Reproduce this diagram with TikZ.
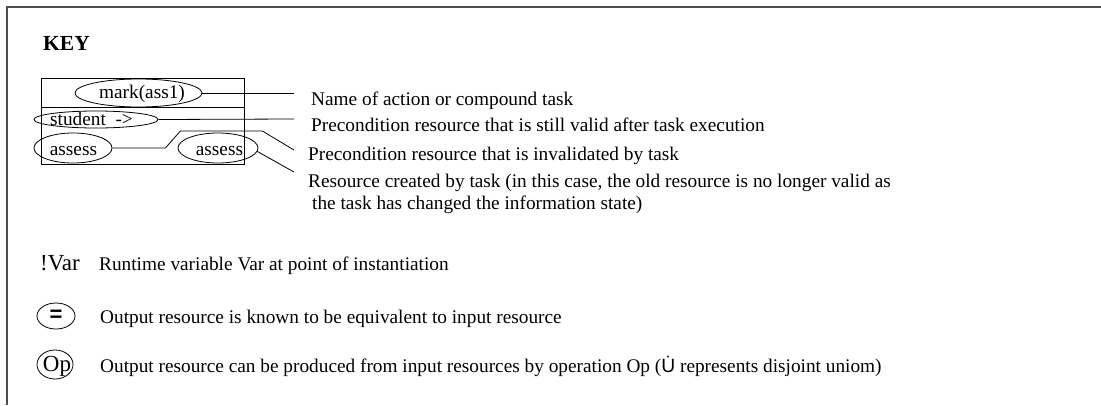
\documentclass[tikz,border=0pt]{standalone}
\usepackage{fontspec}
\setmainfont{Liberation Serif}
\setsansfont{Liberation Sans}
\usetikzlibrary{shapes.geometric,positioning}

\begin{document}
\begin{tikzpicture}[x=1pt, y=-1pt,
    res/.style={ellipse, draw, inner sep=0pt, line width=0.8pt},
    txt/.style={anchor=base, inner sep=0pt, font=\fontsize{19.3}{22}\selectfont},
    lbl/.style={anchor=base west, inner sep=0pt, font=\fontsize{19.3}{22}\selectfont},
    wire/.style={line width=0.8pt}
]
    \useasboundingbox (0,0) rectangle (1101,405);
    \draw[line width=1.4pt, black!70] (7,405) -- (7,7) -- (1101,7);

    \node[anchor=base west, inner sep=0pt, font=\fontsize{21.5}{24}\selectfont\bfseries] (key) at (43,50) {KEY};

    \node[draw, line width=0.8pt, minimum width=203, minimum height=86, inner sep=0pt] (task) at (142.5,121) {};
    \coordinate (div) at (0,107);
    \draw[wire] (task.west |- div) -- (task.east |- div);

    \node[res, minimum width=127, minimum height=28] (name) at (138.5,93) {};
    \node[txt] (nametext) at (142,98.5) {mark(ass1)};
    \node[res, minimum width=124, minimum height=17] (keep) at (96,119.5) {};
    \node[txt] (keeptext) at (91.5,125.5) {student\ \ ->};
    \node[res, minimum width=78, minimum height=30] (used) at (73,148) {};
    \node[txt] (usedtext) at (73.5,155) {assess};
    \node[res, minimum width=80, minimum height=30] (made) at (218,148) {};
    \node[txt] (madetext) at (219.5,155) {assess};

    \coordinate (e1) at (294,93);
    \coordinate (e2) at (294,119);
    \coordinate (e3) at (294,150);
    \coordinate (e4) at (294,172);

    \draw[wire] (name.east) -- (e1);
    \draw[wire] (keep.east) -- (e2);
    \draw[wire] (used.east) -- ++(53,0) -- ++(15,-17) -- ++(82,0) -- (e3);
    \draw[wire] (made.-5) -- (e4);

    \node[lbl] (l1) at (311,105) {Name of action or compound task};
    \node[lbl] (l2) at (311,131) {Precondition resource that is still valid after task execution};
    \node[lbl] (l3) at (308,160) {Precondition resource that is invalidated by task};
    \node[lbl] (l4) at (308,187) {Resource created by task (in this case, the old resource is no longer valid as};
    \node[lbl] (l5) at (312,209) {the task has changed the information state)};

    \node[anchor=base west, inner sep=0pt, font=\fontsize{23}{26}\selectfont] (var) at (40,270) {!Var};
    \node[lbl] (l6) at (99,270) {Runtime variable Var at point of instantiation};

    \node[res, minimum width=38, minimum height=26, font=\sffamily\bfseries\fontsize{22}{22}\selectfont] (eq) at (56,316) {=};
    \node[lbl] (l7) at (100,323) {Output resource is known to be equivalent to input resource};

    \node[res, minimum width=36, minimum height=29] (op) at (55,364.5) {};
    \node[anchor=base, inner sep=0pt, font=\fontsize{23}{26}\selectfont] (optext) at (57,371) {Op};
    \node[lbl] (l8) at (100,372) {Output resource can be produced from input resources by operation Op ({\sffamily\.{U}} represents disjoint uniom)};
\end{tikzpicture}
\end{document}
